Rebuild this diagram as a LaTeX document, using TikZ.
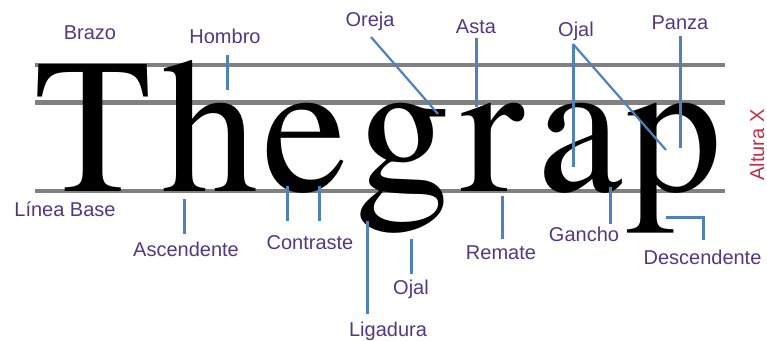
\documentclass[tikz,border=0pt]{standalone}
\usepackage{fontspec}
\setmainfont{Liberation Sans}
\newfontfamily\bigserif{texgyretermes-regular.otf}
\definecolor{lbl}{RGB}{82,56,130}
\definecolor{connc}{RGB}{79,129,189}
\definecolor{guide}{RGB}{128,128,128}
\definecolor{altc}{RGB}{192,48,72}
\begin{document}
\begin{tikzpicture}[x=1pt,y=-1pt,
  lab/.style={text=lbl,font=\fontsize{20}{24}\selectfont,anchor=base,inner sep=0pt},
  glyph/.style={font=\bigserif\fontsize{192}{200}\selectfont,anchor=base,inner sep=0pt},
  guideline/.style={draw=guide,line width=4.5pt},
  connline/.style={draw=connc,line width=3pt},
  conndiag/.style={draw=connc,line width=2.2pt}]
\useasboundingbox (0,0) rectangle (767,340);
% guide lines
\coordinate (capL) at (35,65);   \coordinate (capR) at (725,65);
\coordinate (xhL) at (35,102.5); \coordinate (xhR) at (725,102.5);
\coordinate (baseL) at (35,191); \coordinate (baseR) at (725,191);
\draw[guideline] (capL) -- (capR);
\draw[guideline] (xhL) -- (xhR);
\draw[guideline] (baseL) -- (baseR);
% big letters
\node[glyph] (lT) at (93,191) {T};
\node[glyph] (lh) at (210.5,191) {h};
\node[glyph] (le) at (305,191) {e};
\node[glyph] (lg) at (403.5,191) {g};
\node[glyph] (lr) at (492.5,191) {r};
\node[glyph] (la) at (580,191) {a};
\node[glyph] (lp) at (674,191) {p};
% labels
\node[lab] (brazo) at (90,39) {Brazo};
\node[lab] (hombro) at (225,43) {Hombro};
\node[lab] (oreja) at (370,26) {Oreja};
\node[lab] (asta) at (476,33) {Asta};
\node[lab] (ojalA) at (576,36) {Ojal};
\node[lab] (panza) at (680,29) {Panza};
\node[lab] (linea) at (65,216) {Línea Base};
\node[lab] (asc) at (186,256) {Ascendente};
\node[lab] (contr) at (310,249) {Contraste};
\node[lab] (liga) at (388,336) {Ligadura};
\node[lab] (ojalB) at (411,294) {Ojal};
\node[lab] (remate) at (501,259) {Remate};
\node[lab] (gancho) at (584,241) {Gancho};
\node[lab] (desc) at (702.5,264) {Descendente};
\node[text=altc,font=\fontsize{20}{24}\selectfont,anchor=base,inner sep=0pt,rotate=90] (altura) at (764,145) {Altura X};
% connector end points
\coordinate (hA) at (227,55);  \coordinate (hB) at (227,90);
\coordinate (oA) at (371,37);  \coordinate (oB) at (438,114);
\coordinate (aA) at (476,38);  \coordinate (aB) at (476,107);
\coordinate (jA) at (573,44);  \coordinate (jB) at (573,167); \coordinate (jC) at (666,150);
\coordinate (pA) at (680,36);  \coordinate (pB) at (680,148);
\coordinate (sA) at (184,199); \coordinate (sB) at (184,234);
\coordinate (c1A) at (287,186); \coordinate (c1B) at (287,221);
\coordinate (c2A) at (319,186); \coordinate (c2B) at (319,221);
\coordinate (gA) at (367,221); \coordinate (gB) at (367,314);
\coordinate (obA) at (411,239); \coordinate (obB) at (411,274);
\coordinate (rA) at (502,196); \coordinate (rB) at (502,239);
\coordinate (kA) at (610,187); \coordinate (kB) at (610,224);
\coordinate (dA) at (666,217); \coordinate (dC) at (703,217); \coordinate (dB) at (703,240);
% connectors
\draw[connline] (hA) -- (hB);
\draw[conndiag] (oA) -- (oB);
\draw[connline] (aA) -- (aB);
\draw[connline] (jA) -- (jB);
\draw[conndiag] (jA) -- (jC);
\draw[connline] (pA) -- (pB);
\draw[connline] (sA) -- (sB);
\draw[connline] (c1A) -- (c1B);
\draw[connline] (c2A) -- (c2B);
\draw[connline] (gA) -- (gB);
\draw[connline] (obA) -- (obB);
\draw[connline] (rA) -- (rB);
\draw[connline] (kA) -- (kB);
\draw[connline] (dA) -- (dC) -- (dB);
\end{tikzpicture}
\end{document}
